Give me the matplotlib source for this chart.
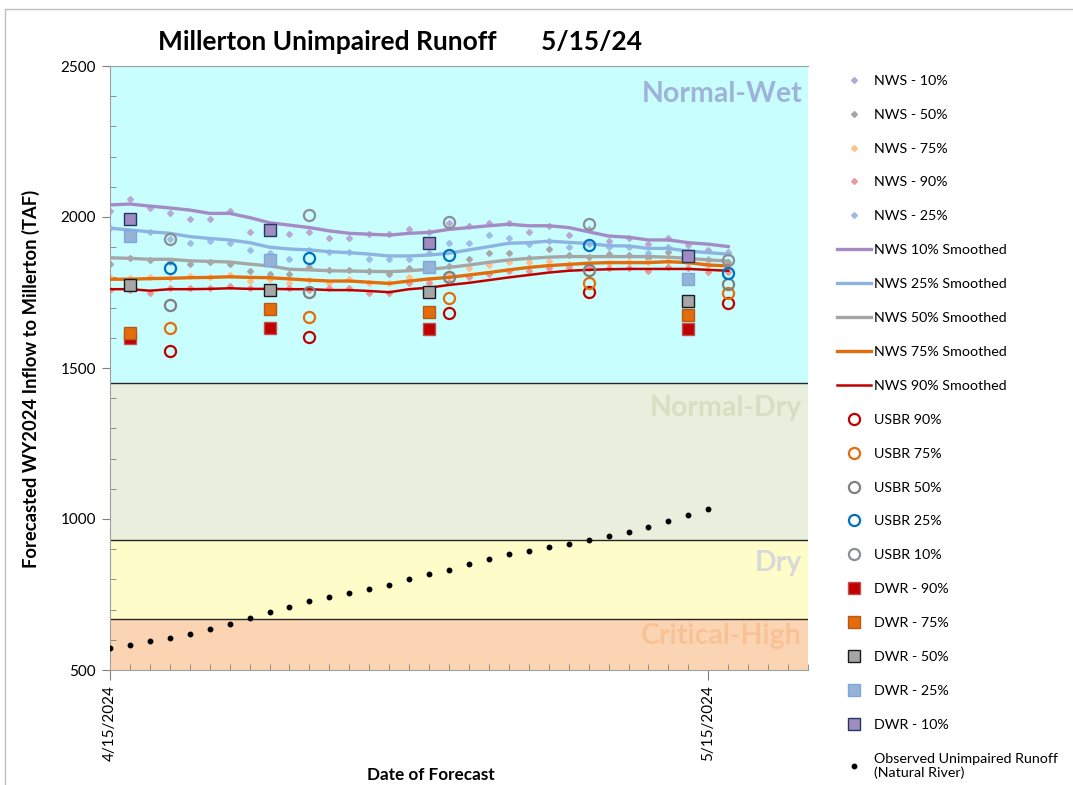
import numpy as np
import pandas as pd
import matplotlib
matplotlib.use('Agg')
import matplotlib.pyplot as plt
import matplotlib.dates as mdates
from matplotlib.patches import Rectangle

plt.rcParams.update({
    'font.family': ['Lato', 'DejaVu Sans'],
    'font.size': 10,
})

# NWS daily forecasts, 4/15 .. 5/16
nws_dates = pd.date_range('2024-04-15', periods=32, freq='D')
nws_10 = [2021, 2060, 2030, 2012, 1992, 1992, 2021, 1951, 1970, 1943, 1951, 1931, 1931, 1943, 1943, 1961,
          1951, 1981, 1971, 1981, 1981, 1951, 1971, 1941, 1960, 1921, 1931, 1912, 1931, 1907, 1892, 1883]
nws_25 = [1963, 1937, 1951, 1927, 1913, 1921, 1913, 1891, 1882, 1861, 1891, 1883, 1883, 1861, 1861, 1861,
          1880, 1913, 1913, 1942, 1931, 1912, 1920, 1902, 1911, 1902, 1902, 1882, 1902, 1887, 1860, 1882]
nws_50 = [1843, 1863, 1856, 1851, 1843, 1851, 1843, 1822, 1811, 1811, 1834, 1823, 1823, 1822, 1810, 1831,
          1828, 1838, 1861, 1882, 1882, 1864, 1893, 1874, 1868, 1877, 1874, 1864, 1884, 1864, 1858, 1851]
nws_75 = [1802, 1798, 1802, 1798, 1805, 1801, 1808, 1789, 1795, 1780, 1791, 1780, 1794, 1780, 1781, 1802,
          1791, 1811, 1830, 1841, 1852, 1852, 1854, 1844, 1844, 1848, 1851, 1851, 1854, 1848, 1841, 1831]
nws_90 = [1758, 1758, 1749, 1764, 1764, 1764, 1772, 1764, 1762, 1766, 1758, 1766, 1764, 1749, 1749, 1780,
          1782, 1785, 1800, 1810, 1822, 1822, 1830, 1833, 1831, 1830, 1830, 1822, 1833, 1831, 1819, 1818]

# smoothed NWS
sm_10 = [2040, 2043, 2036, 2030, 2023, 2012, 2012, 1998, 1981, 1973, 1965, 1954, 1946, 1943, 1940, 1946,
         1949, 1959, 1965, 1971, 1976, 1971, 1971, 1965, 1951, 1937, 1933, 1924, 1924, 1915, 1910, 1902]
sm_25 = [1963, 1957, 1951, 1946, 1935, 1929, 1924, 1915, 1900, 1894, 1891, 1885, 1882, 1877, 1871, 1871,
         1874, 1880, 1891, 1902, 1913, 1915, 1920, 1916, 1912, 1905, 1904, 1896, 1896, 1887, 1882, 1877]
sm_50 = [1865, 1863, 1860, 1860, 1855, 1853, 1851, 1844, 1838, 1827, 1825, 1822, 1821, 1820, 1819, 1822,
         1827, 1833, 1841, 1850, 1858, 1863, 1867, 1869, 1869, 1869, 1869, 1869, 1867, 1863, 1858, 1854]
sm_75 = [1794, 1794, 1796, 1797, 1799, 1800, 1802, 1800, 1799, 1795, 1791, 1788, 1788, 1784, 1780, 1788,
         1795, 1800, 1808, 1816, 1825, 1833, 1839, 1843, 1847, 1849, 1849, 1849, 1852, 1849, 1841, 1838]
sm_90 = [1761, 1761, 1756, 1761, 1761, 1762, 1764, 1762, 1762, 1761, 1761, 1758, 1758, 1755, 1751, 1761,
         1766, 1775, 1782, 1791, 1800, 1808, 1816, 1822, 1825, 1827, 1828, 1828, 1828, 1828, 1825, 1822]

usbr_dates = pd.to_datetime(['2024-04-18', '2024-04-25', '2024-05-02', '2024-05-09', '2024-05-16'])
usbr_90 = [1556, 1603, 1682, 1751, 1716]
usbr_75 = [1632, 1669, 1731, 1780, 1749]
usbr_50 = [1709, 1752, 1800, 1825, 1777]
usbr_25 = [1831, 1864, 1875, 1908, 1813]
usbr_10 = [1927, 2007, 1982, 1976, 1858]

dwr_dates = pd.to_datetime(['2024-04-16', '2024-04-23', '2024-05-01', '2024-05-14'])
dwr_90 = [1598, 1632, 1629, 1629]
dwr_75 = [1616, 1695, 1685, 1675]
dwr_50 = [1775, 1758, 1752, 1722]
dwr_25 = [1937, 1858, 1834, 1795]
dwr_10 = [1993, 1957, 1914, 1871]

obs_dates = pd.date_range('2024-04-15', periods=31, freq='D')
obs = [572, 583, 595, 607, 619, 637, 652, 672, 692, 710, 727, 742, 755, 767, 782, 800,
       817, 832, 850, 868, 883, 895, 907, 918, 929, 943, 957, 972, 992, 1013, 1033]

# year-type bands
band_edges = [500, 670, 930, 1450, 2500]
band_colors = ['#fbd5b3', '#fefdc9', '#eaeedc', '#c8fffe']
band_names = ['Critical-High', 'Dry', 'Normal-Dry', 'Normal-Wet']
band_text_colors = ['#f9c296', '#d9d9d9', '#d5e0c2', '#9db3d9']
band_text_y = [613, 854, 1368, 2407]

fig = plt.figure(figsize=(10.73, 7.85), dpi=100)
ax = fig.add_axes([110/1073, 1-670/785, 698/1073, 604/785])

x0 = pd.Timestamp('2024-04-15')
x1 = pd.Timestamp('2024-05-20')
for i in range(4):
    ax.axhspan(band_edges[i], band_edges[i+1], color=band_colors[i], zorder=0, lw=0)
    ax.text(x1 - pd.Timedelta(days=0.3), band_text_y[i], band_names[i], ha='right', va='center',
            fontsize=20.5, fontweight='bold', color=band_text_colors[i], zorder=1)
for y in band_edges[1:4]:
    ax.axhline(y, color='#262626', lw=1.0, zorder=1)

# NWS points
ax.plot(nws_dates, nws_10, 'D', ms=3, color='#b6a7d3', label='NWS - 10%', zorder=2)
ax.plot(nws_dates, nws_50, 'D', ms=3, color='#a6a6a6', label='NWS - 50%', zorder=2)
ax.plot(nws_dates, nws_75, 'D', ms=3, color='#fcbf8e', label='NWS - 75%', zorder=2)
ax.plot(nws_dates, nws_90, 'D', ms=3, color='#e39b9b', label='NWS - 90%', zorder=2)
ax.plot(nws_dates, nws_25, 'D', ms=3, color='#9ebde6', label='NWS - 25%', zorder=2)

ax.plot(nws_dates, sm_10, '-', lw=2.4, color='#a48bc5', label='NWS 10% Smoothed', zorder=3)
ax.plot(nws_dates, sm_25, '-', lw=2.4, color='#8db3e2', label='NWS 25% Smoothed', zorder=3)
ax.plot(nws_dates, sm_50, '-', lw=2.4, color='#a6a6a6', label='NWS 50% Smoothed', zorder=3)
ax.plot(nws_dates, sm_75, '-', lw=2.4, color='#e46c0a', label='NWS 75% Smoothed', zorder=3)
ax.plot(nws_dates, sm_90, '-', lw=1.8, color='#c00000', label='NWS 90% Smoothed', zorder=3)

circ = dict(marker='o', ls='none', ms=8, mew=1.6, mfc='none', zorder=4)
ax.plot(usbr_dates, usbr_90, mec='#c00000', label='USBR 90%', **circ)
ax.plot(usbr_dates, usbr_75, mec='#e46c0a', label='USBR 75%', **circ)
ax.plot(usbr_dates, usbr_50, mec='#7f7f7f', label='USBR 50%', **circ)
ax.plot(usbr_dates, usbr_25, mec='#0070c0', label='USBR 25%', **circ)
ax.plot(usbr_dates, usbr_10, mec='#8a8e96', label='USBR 10%', **circ)

sq = dict(marker='s', ls='none', ms=8.5, mew=1.0, zorder=5)
ax.plot(dwr_dates, dwr_90, mfc='#c00000', mec='#c05050', label='DWR - 90%', **sq)
ax.plot(dwr_dates, dwr_75, mfc='#e46c0a', mec='#b45a1a', label='DWR - 75%', **sq)
ax.plot(dwr_dates, dwr_50, mfc='#a6a6a6', mec='#1a1a1a', label='DWR - 50%', **sq)
ax.plot(dwr_dates, dwr_25, mfc='#95b3d7', mec='#7ea6e0', label='DWR - 25%', **sq)
ax.plot(dwr_dates, dwr_10, mfc='#a08cc0', mec='#1f3864', label='DWR - 10%', **sq)

ax.plot(obs_dates, obs, 'o', ms=3.2, color='black', label='Observed Unimpaired Runoff\n(Natural River)', zorder=6)

ax.set_xlim(x0, x1)
ax.set_ylim(500, 2500)
ax.set_yticks([500, 1000, 1500, 2000, 2500])
ax.set_yticks(np.arange(500, 2501, 100), minor=True)
ax.xaxis.set_major_locator(mdates.DayLocator(bymonthday=[15]))
ax.xaxis.set_minor_locator(mdates.DayLocator())
ax.xaxis.set_major_formatter(plt.FuncFormatter(
    lambda v, p: '{0.month}/{0.day}/{0.year}'.format(mdates.num2date(v))))
ax.tick_params(axis='x', which='major', direction='out', length=7, color='#808080',
               labelrotation=90, labelsize=11, pad=4)
ax.tick_params(axis='x', which='minor', direction='in', length=4, color='#808080')
ax.tick_params(axis='y', which='major', direction='out', length=6, color='#808080', labelsize=11, pad=4)
ax.tick_params(axis='y', which='minor', direction='in', length=4, color='#808080')
for s in ['left', 'bottom', 'top']:
    ax.spines[s].set_color('#a0a0a0')
ax.spines['right'].set_visible(False)

ax.set_ylabel('Forecasted WY2024 Inflow to Millerton (TAF)', fontsize=13.2, fontweight='bold')
ax.yaxis.set_label_coords(-0.1, 0.482)
ax.set_xlabel('Date of Forecast', fontsize=12.3, fontweight='bold')
ax.xaxis.set_label_coords(0.46, -0.16)
fig.text(400/1073, 1-42/785, 'Millerton Unimpaired Runoff       5/15/24', ha='center', va='center',
         fontsize=19, fontweight='bold')

fig.legend(loc='upper left', bbox_to_anchor=(831/1073, 1-69/785), frameon=False, fontsize=10.3,
           handlelength=2.4, handletextpad=0.2, labelspacing=1.53, borderaxespad=0)

fig.patches.append(Rectangle((5/1073, -0.1), 1.2, 1.1 - 9/785, transform=fig.transFigure,
                             fill=False, edgecolor='#bfbfbf', lw=1))

plt.savefig('out.png', dpi=100)
